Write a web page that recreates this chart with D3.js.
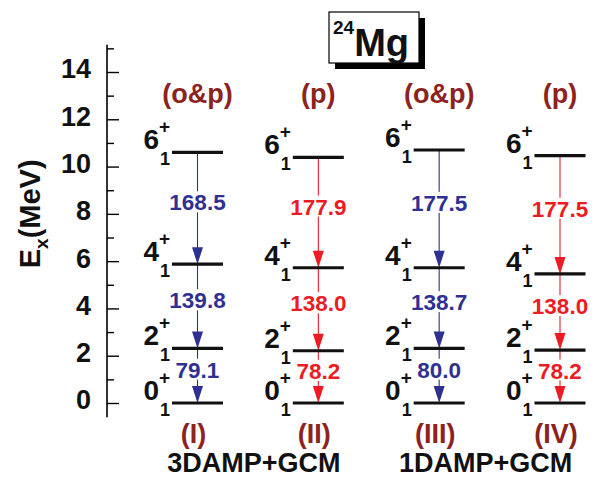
<!DOCTYPE html>
<html><head><meta charset="utf-8">
<script src="https://cdn.jsdelivr.net/npm/d3@7"></script>
<style>body{margin:0;background:#fff}svg{display:block}text{font-family:"Liberation Sans",Arial,sans-serif;font-weight:bold}</style>
</head><body>
<script>
// ---- data ----
const columns = ["I", "II", "III", "IV"];
const headerLabels = ["(o&p)", "(p)", "(o&p)", "(p)"];
const bottomLabels = ["(I)", "(II)", "(III)", "(IV)"];
const spins = ["0", "2", "4", "6"];
const levelsI = [0, 2.31, 5.87, 10.60];
const levelsII = [0, 2.21, 5.72, 10.39];
const levelsIII = [0, 2.31, 5.72, 10.70];
const levelsIV = [0, 2.24, 5.46, 10.46];
// B(E2) values for 2->0, 4->2, 6->4
const be2I = [79.1, 139.8, 168.5];
const be2II = [78.2, 138.0, 177.9];
const be2III = [80.0, 138.7, 177.5];
const be2IV = [78.2, 138.0, 177.5];
const groupLabels = ["3DAMP+GCM", "1DAMP+GCM"];
const yMajorTicks = [0, 2, 4, 6, 8, 10, 12, 14];
const yMinorTicks = [1, 3, 5, 7, 9, 11, 13, 15];
const titleNucleus = "Mg", titleMass = "24";
const yLabelMain = "E", yLabelSub = "x", yLabelUnit = "(MeV)";

const levels = [levelsI, levelsII, levelsIII, levelsIV];
const be2 = [be2I, be2II, be2III, be2IV];
const colColors = ["#2e3192", "#ed1c24", "#2e3192", "#ed1c24"];
const headColor = "#8c2320";

const W = 601, H = 478;
const svg = d3.select("body").append("svg").attr("width", W).attr("height", H);

const y = d3.scaleLinear().domain([0, 14]).range([403, 72]);
const x = d3.scalePoint().domain(columns).range([197.5, 560]);
const axisX = 107;
const halfLen = 25.5;

// axis
const ax = svg.append("g").attr("transform", `translate(${axisX},0)`);
ax.append("line").attr("x1", 0).attr("x2", 0).attr("y1", y(15.15)).attr("y2", y(-0.6))
  .attr("stroke", "#000").attr("stroke-width", 1.6);
const major = ax.append("g").call(d3.axisLeft(y).tickValues(yMajorTicks).tickSize(-12).tickPadding(16).tickFormat(d3.format("d")));
major.select(".domain").remove();
major.selectAll(".tick line").attr("stroke", "#000").attr("stroke-width", 1.4);
major.selectAll(".tick text").attr("font-size", 27).attr("font-weight", "bold")
  .attr("font-family", '"Liberation Sans",Arial,sans-serif').attr("fill", "#111").attr("dy", "0.22em");
const minor = ax.append("g").call(d3.axisLeft(y).tickValues(yMinorTicks).tickSize(-7).tickFormat(""));
minor.select(".domain").remove();
minor.selectAll(".tick line").attr("stroke", "#000").attr("stroke-width", 1.4);

// y label
const yl = svg.append("text").attr("transform", `translate(40,${y(8.0)}) rotate(-90)`)
  .attr("text-anchor", "middle").attr("font-size", 29).attr("fill", "#111");
yl.append("tspan").text(yLabelMain);
yl.append("tspan").text(yLabelSub).attr("font-size", 19).attr("dy", 8);
yl.append("tspan").text(yLabelUnit).attr("dy", -8);

// columns
columns.forEach((c, ci) => {
  const cx = x(c);
  const col = colColors[ci];
  const g = svg.append("g");
  const lv = levels[ci];
  // arrows
  for (let k = 0; k < 3; k++) {
    const yTop = y(lv[k + 1]), yBot = y(lv[k]);
    g.append("line").attr("x1", cx).attr("x2", cx).attr("y1", yTop).attr("y2", yBot - 8)
      .attr("stroke", col).attr("stroke-width", 1.1);
    g.append("path").attr("d", `M${cx - 5.5},${yBot - 17} L${cx + 5.5},${yBot - 17} L${cx},${yBot} Z`).attr("fill", col);
    const mid = (yTop + yBot) / 2;
    const label = be2[ci][k].toFixed(1);
    g.append("rect").attr("x", cx - 31).attr("y", mid - 17).attr("width", 62).attr("height", 21).attr("fill", "#fff");
    g.append("text").attr("x", cx).attr("y", mid + 2).attr("text-anchor", "middle")
      .attr("font-size", 22.5).attr("fill", col).text(label);
  }
  // levels
  lv.forEach((e, li) => {
    const yy = y(e);
    g.append("line").attr("x1", cx - halfLen).attr("x2", cx + halfLen).attr("y1", yy).attr("y2", yy)
      .attr("stroke", "#111").attr("stroke-width", 3.2);
    const lx = cx - halfLen - 13;
    g.append("text").attr("x", lx).attr("y", yy - 3).attr("text-anchor", "end").attr("font-size", 28)
      .attr("fill", "#111").text(spins[li]);
    g.append("text").attr("x", lx + 0).attr("y", yy - 19).attr("font-size", 19).attr("fill", "#111").text("+");
    g.append("text").attr("x", lx + 1).attr("y", yy + 13).attr("font-size", 18).attr("fill", "#111").text("1");
  });
  svg.append("text").attr("x", cx).attr("y", 103).attr("text-anchor", "middle").attr("font-size", 27)
    .attr("fill", headColor).text(headerLabels[ci]);
  svg.append("text").attr("x", cx - 4).attr("y", 443).attr("text-anchor", "middle").attr("font-size", 27)
    .attr("fill", headColor).text(bottomLabels[ci]);
});

// group labels
svg.append("text").attr("x", (x("I") + x("II")) / 2 - 4).attr("y", 472).attr("text-anchor", "middle")
  .attr("font-size", 27).attr("fill", "#111").text(groupLabels[0]);
svg.append("text").attr("x", (x("III") + x("IV")) / 2 - 14).attr("y", 472).attr("text-anchor", "middle")
  .attr("font-size", 27).attr("fill", "#111").text(groupLabels[1]);

// title box
const tb = svg.append("g");
tb.append("rect").attr("x", 335).attr("y", 18).attr("width", 90).attr("height", 51).attr("fill", "#000");
tb.append("rect").attr("x", 329).attr("y", 12).attr("width", 90).attr("height", 51).attr("fill", "#fff")
  .attr("stroke", "#000").attr("stroke-width", 1.2);
const tt = tb.append("text").attr("x", 333).attr("y", 56).attr("fill", "#111");
tt.append("tspan").text(titleMass).attr("font-size", 19).attr("dy", -22);
tt.append("tspan").text(titleNucleus).attr("font-size", 38).attr("dy", 22);
</script>
</body></html>
